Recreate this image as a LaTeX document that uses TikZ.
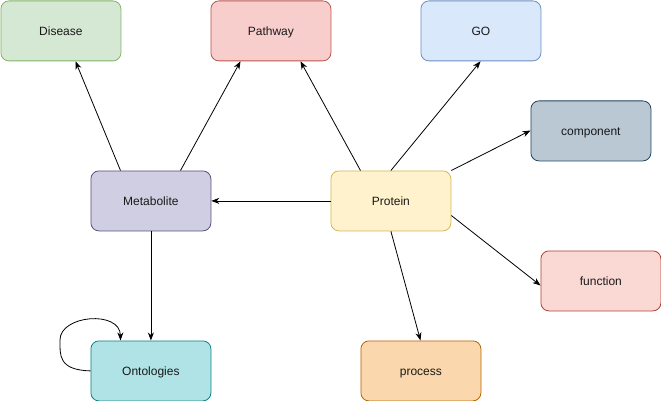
\documentclass[tikz,border=0pt]{standalone}
\usepackage{fontspec}
\setmainfont{Liberation Sans}
\usetikzlibrary{arrows.meta}
\definecolor{fDis}{HTML}{D5E8D4}\definecolor{sDis}{HTML}{82B366}
\definecolor{fPath}{HTML}{F8CECC}\definecolor{sPath}{HTML}{B85450}
\definecolor{fGO}{HTML}{DAE8FC}\definecolor{sGO}{HTML}{6C8EBF}
\definecolor{fComp}{HTML}{BAC8D3}\definecolor{sComp}{HTML}{23445D}
\definecolor{fMet}{HTML}{D0CEE2}\definecolor{sMet}{HTML}{56517E}
\definecolor{fProt}{HTML}{FFF2CC}\definecolor{sProt}{HTML}{D6B656}
\definecolor{fFun}{HTML}{FAD9D5}\definecolor{sFun}{HTML}{AE4132}
\definecolor{fOnt}{HTML}{B0E3E6}\definecolor{sOnt}{HTML}{0E8088}
\definecolor{fProc}{HTML}{FAD7AC}\definecolor{sProc}{HTML}{B46504}
\tikzset{
  box/.style={draw, rounded corners=8pt, minimum width=120pt, minimum height=60pt,
    inner sep=0pt, line width=0.8pt, font=\fontsize{12}{14}\selectfont, text=black!90,
    text height=8.6pt, text depth=0pt, anchor=north west},
  conn/.style={line width=0.8pt, -{Stealth[length=8pt,width=6pt,inset=2.5pt]}}
}
\begin{document}
\begin{tikzpicture}[x=1pt,y=-1pt]
\useasboundingbox (0,0) rectangle (661,401);
\node[box, fill=fDis, draw=sDis] (dis) at (0.5,0.5) {Disease};
\node[box, fill=fPath, draw=sPath] (path) at (210.5,0.5) {Pathway};
\node[box, fill=fGO, draw=sGO] (go) at (420.5,0.5) {GO};
\node[box, fill=fComp, draw=sComp] (comp) at (530.5,100.5) {component};
\node[box, fill=fMet, draw=sMet] (met) at (90.5,170.5) {Metabolite};
\node[box, fill=fProt, draw=sProt] (prot) at (330.5,170.5) {Protein};
\node[box, fill=fFun, draw=sFun] (fun) at (540.5,250.5) {function};
\node[box, fill=fOnt, draw=sOnt] (ont) at (90.5,340.5) {Ontologies};
\node[box, fill=fProc, draw=sProc] (proc) at (360.5,340.5) {process};

\draw[conn] ([xshift=30pt]met.north west) -- ([xshift=75pt]dis.south west);
\draw[conn] ([xshift=90pt]met.north west) -- ([xshift=30pt]path.south west);
\draw[conn] ([xshift=30pt]prot.north west) -- ([xshift=90pt]path.south west);
\draw[conn] (prot.north) -- ([xshift=60pt]go.south west);
\draw[conn] (prot.north east) -- ([yshift=-30pt]comp.north west);
\draw[conn] (prot.west) -- (met.east);
\draw[conn] ([yshift=-45pt]prot.north east) -- ([yshift=-35pt]fun.north west);
\draw[conn] (prot.south) -- ([xshift=60pt]proc.north west);
\draw[conn] (met.south) -- (ont.north);
\draw[conn] (ont.west) .. controls (58,370) and (60,355) .. (60,340)
  .. controls (60,315) and (120,310) .. ([xshift=30pt]ont.north west);
\end{tikzpicture}
\end{document}
